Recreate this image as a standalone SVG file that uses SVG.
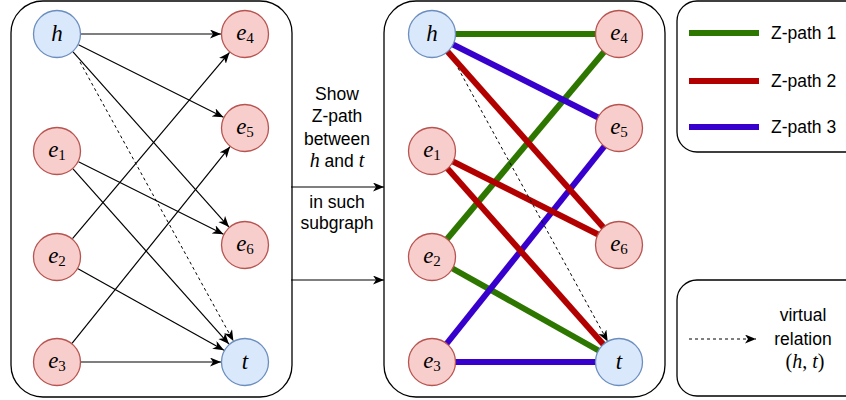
<svg xmlns="http://www.w3.org/2000/svg" width="846" height="400" viewBox="0 0 846 400">
<style>
.box{fill:#fff;stroke:#000;stroke-width:1.3}
.nb{fill:#dae8fc;stroke:#6c8ebf;stroke-width:1.3}
.nr{fill:#f8cecc;stroke:#b85450;stroke-width:1.3}
.lbl{font-family:"Liberation Serif","DejaVu Serif",serif;font-style:italic;font-size:23px;text-anchor:middle;fill:#000}
.sub{font-style:normal;font-size:15px}
.e{stroke:#000;stroke-width:1.2;fill:none;marker-end:url(#arr)}
.d{stroke:#000;stroke-width:1;fill:none;stroke-dasharray:3 3;marker-end:url(#arr)}
.g{stroke:#2D7600;stroke-width:6;fill:none}
.r{stroke:#B20000;stroke-width:6;fill:none}
.b{stroke:#3700CC;stroke-width:6;fill:none}
.t{font-family:"Liberation Sans",Arial,sans-serif;font-size:17.5px;fill:#000}
.m{font-family:"Liberation Serif","DejaVu Serif",serif;font-style:italic;font-size:20px}
.mu{font-family:"Liberation Serif","DejaVu Serif",serif;font-style:normal;font-size:20px}
</style>
<defs>
<marker id="arr" markerUnits="userSpaceOnUse" markerWidth="12" markerHeight="10" refX="11" refY="4.5" orient="auto">
<path d="M0,0 L11,4.5 L0,9 L3,4.5 z" fill="#000"/>
</marker>
</defs>

<rect class="box" x="11" y="1" width="281" height="396" rx="32"/>
<rect class="box" x="384" y="1" width="281" height="396" rx="32"/>
<rect class="box" x="677" y="1" width="200" height="151" rx="20"/>
<rect class="box" x="677" y="280" width="200" height="116" rx="20"/>

<g id="connectors">
<!-- left panel -->
<line class="e" x1="81" y1="34" x2="221" y2="34"/>
<line class="e" x1="78.5" y1="44.7" x2="223.5" y2="117.3"/>
<line class="e" x1="73" y1="51.9" x2="229" y2="227.1"/>
<line class="e" x1="78.5" y1="161.7" x2="223.5" y2="234.3"/>
<line class="e" x1="73" y1="168.9" x2="229" y2="344.1"/>
<line class="e" x1="72.5" y1="238.6" x2="229.5" y2="52.4"/>
<line class="e" x1="78" y1="268.7" x2="224" y2="350.3"/>
<line class="e" x1="72" y1="343.3" x2="230" y2="146.7"/>
<line class="e" x1="81" y1="362" x2="221" y2="362"/>
<line class="d" x1="80" y1="62" x2="233.4" y2="341"/>
<!-- middle -->
<line class="e" x1="291" y1="187" x2="384" y2="187"/>
<line class="e" x1="291" y1="280" x2="384" y2="280"/>
<!-- right panel -->
<line class="g" x1="432" y1="34" x2="619" y2="34"/>
<line class="g" x1="432" y1="257" x2="619" y2="34"/>
<line class="g" x1="432" y1="257" x2="619" y2="362"/>
<line class="b" x1="432" y1="34" x2="619" y2="128"/>
<line class="b" x1="432" y1="362" x2="619" y2="128"/>
<line class="b" x1="432" y1="362" x2="619" y2="362"/>
<line class="r" x1="432" y1="34" x2="619" y2="245"/>
<line class="r" x1="432" y1="151" x2="619" y2="245"/>
<line class="r" x1="432" y1="151" x2="619" y2="362"/>
<line class="d" x1="458" y1="68" x2="607.7" y2="341.4"/>
<!-- legend -->
<line class="g" x1="689" y1="33" x2="759" y2="33"/>
<line class="r" x1="689" y1="81" x2="759" y2="81"/>
<line class="b" x1="689" y1="127" x2="759" y2="127"/>
<line class="d" x1="689" y1="339" x2="756" y2="339"/>
</g>

<g id="L-h"><circle class="nb" cx="57" cy="34" r="23.5"/><text class="lbl" x="57" y="41">h</text></g>
<g id="L-e1"><circle class="nr" cx="57" cy="151" r="23.5"/><text class="lbl" x="57" y="157">e<tspan class="sub" dy="3">1</tspan></text></g>
<g id="L-e2"><circle class="nr" cx="57" cy="257" r="23.5"/><text class="lbl" x="57" y="263">e<tspan class="sub" dy="3">2</tspan></text></g>
<g id="L-e3"><circle class="nr" cx="57" cy="362" r="23.5"/><text class="lbl" x="57" y="368">e<tspan class="sub" dy="3">3</tspan></text></g>
<g id="L-e4"><circle class="nr" cx="245" cy="34" r="23.5"/><text class="lbl" x="245" y="40">e<tspan class="sub" dy="3">4</tspan></text></g>
<g id="L-e5"><circle class="nr" cx="245" cy="128" r="23.5"/><text class="lbl" x="245" y="134">e<tspan class="sub" dy="3">5</tspan></text></g>
<g id="L-e6"><circle class="nr" cx="245" cy="245" r="23.5"/><text class="lbl" x="245" y="251">e<tspan class="sub" dy="3">6</tspan></text></g>
<g id="L-t"><circle class="nb" cx="245" cy="362" r="23.5"/><text class="lbl" x="245" y="369">t</text></g>

<g id="R-h"><circle class="nb" cx="432" cy="34" r="23.5"/><text class="lbl" x="432" y="41">h</text></g>
<g id="R-e1"><circle class="nr" cx="432" cy="151" r="23.5"/><text class="lbl" x="432" y="157">e<tspan class="sub" dy="3">1</tspan></text></g>
<g id="R-e2"><circle class="nr" cx="432" cy="257" r="23.5"/><text class="lbl" x="432" y="263">e<tspan class="sub" dy="3">2</tspan></text></g>
<g id="R-e3"><circle class="nr" cx="432" cy="362" r="23.5"/><text class="lbl" x="432" y="368">e<tspan class="sub" dy="3">3</tspan></text></g>
<g id="R-e4"><circle class="nr" cx="619" cy="34" r="23.5"/><text class="lbl" x="619" y="40">e<tspan class="sub" dy="3">4</tspan></text></g>
<g id="R-e5"><circle class="nr" cx="619" cy="128" r="23.5"/><text class="lbl" x="619" y="134">e<tspan class="sub" dy="3">5</tspan></text></g>
<g id="R-e6"><circle class="nr" cx="619" cy="245" r="23.5"/><text class="lbl" x="619" y="251">e<tspan class="sub" dy="3">6</tspan></text></g>
<g id="R-t"><circle class="nb" cx="619" cy="362" r="23.5"/><text class="lbl" x="619" y="369">t</text></g>

<g id="middle-text" class="t" text-anchor="middle">
<text x="337" y="100">Show</text>
<text x="337" y="122">Z-path</text>
<text x="337" y="145">between</text>
<text x="337" y="167"><tspan class="m">h</tspan> and <tspan class="m">t</tspan></text>
<text x="337" y="208">in such</text>
<text x="337" y="229">subgraph</text>
</g>

<g id="legend-text" class="t">
<text x="771" y="39">Z-path 1</text>
<text x="771" y="87">Z-path 2</text>
<text x="771" y="133">Z-path 3</text>
<text x="803" y="321" text-anchor="middle">virtual</text>
<text x="803" y="345" text-anchor="middle">relation</text>
<text x="805" y="368" text-anchor="middle"><tspan class="mu">(</tspan><tspan class="m">h</tspan><tspan class="mu">, </tspan><tspan class="m">t</tspan><tspan class="mu">)</tspan></text>
</g>
</svg>
